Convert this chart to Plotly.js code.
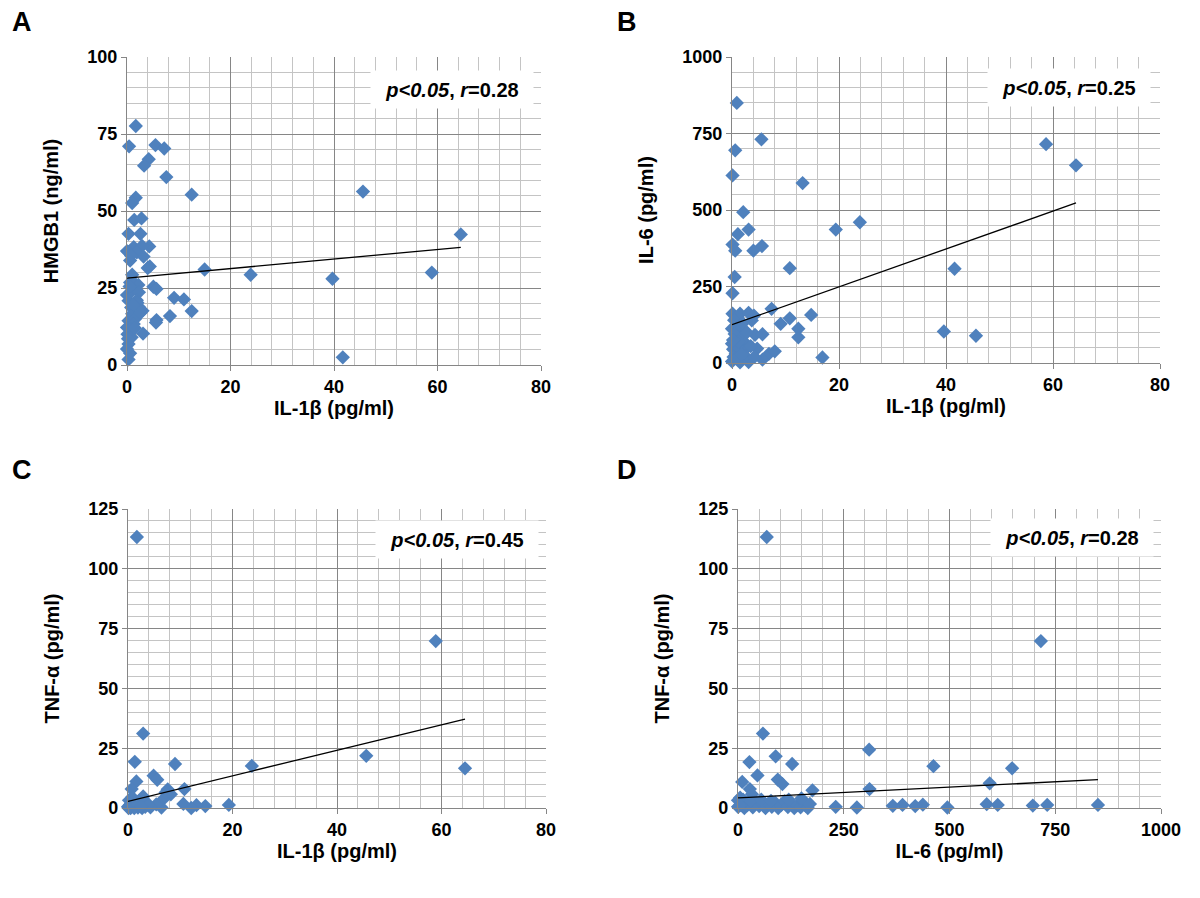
<!DOCTYPE html>
<html>
<head>
<meta charset="utf-8">
<script src="https://cdn.plot.ly/plotly-3.0.1.min.js"></script>
<style>html,body{margin:0;padding:0;background:#fff;}#chart{width:1200px;height:898px;}</style>
</head>
<body>
<div id="chart"></div>
<script>
// ---------- Panel A: IL-1β vs HMGB1 ----------
const aIL1b = [1.7,0.4,5.5,7.2,4.2,3.3,7.6,12.5,45.6,1.7,1.0,1.4,2.8,0.3,2.6,64.5,4.3,1.3,2.9,0,0.3,1.9,3.2,0.6,0.8,4.0,4.4,15,23.9,58.9,39.7,1.0,0.6,1.5,2.2,5.1,5.7,9.1,11,12.5,8.3,5.7,5.6,3.1,41.7,0.3,0,1.0,2.3,0.3,1.9,0.8,2.3,3.0,1.0,0.3,1.6,0,1.3,0.1,0.9,0.3,0,2.0,1.2,0.5,2.6,0.7,1.5,0.2,0.6];
const aHMGB1 = [77.6,71,71.4,70.3,66.8,64.7,61,55.3,56.3,54.3,52.6,47.1,47.6,42.6,42.6,42.4,38.5,38.3,38.7,37,36.6,36.6,35.2,33.9,35.5,31.5,32,31,29.3,30,28,29.3,26.8,26.5,26,25.4,24.7,21.8,21.3,17.5,15.9,14.6,13.8,10.2,2.5,1.8,22.7,24.1,23.6,20.9,21,18.7,18.8,17.6,16.6,14.4,15,12.2,13.3,10,9,6.8,5.2,20.2,19.5,25.5,17,11.5,12,8.5,3.8];
const aTrendX = [0, 64.5];
const aTrendY = [28.2, 38.2];

// ---------- Panel B: IL-1β vs IL-6 ----------
const bIL1b = [0.9,5.5,0.6,0.1,13.2,58.7,64.3,2.1,3.1,1.1,19.4,23.9,0.1,5.6,4.0,0.6,10.8,41.6,0.5,0.1,7.4,14.8,10.8,9.1,12.4,12.4,39.6,45.6,16.9,0.1,1.5,3.1,4.1,3.7,0.9,0,1.6,4.3,5.7,1.4,2.6,0,4.7,6.9,8.0,3.1,5.7,0.7,0,1.7,0.2,2.2,1.0,0.4,2.0,0.5,2.8,1.2,0.3,2.5,1.5,0.8,3.5,0.2,1.8,4.2];
const bIL6 = [850,731,695,613,588,715,646,493,436,421,436,460,387,382,367,367,310,308,281,228,177,157,146,128,112,84,103,89,18,161,161,164,155,139,123,112,110,92,94,85,63,63,47,30,38,3,11,30,5,10,45,40,52,140,130,95,100,70,20,22,2,15,55,75,28,20];
const bTrendX = [0, 64.3];
const bTrendY = [125, 523];

// ---------- Panel C: IL-1β vs TNF-α ----------
const cIL1b = [1.7,58.9,2.9,1.3,9.0,23.7,45.6,64.5,4.9,5.6,1.6,0.7,10.8,7.6,8.2,2.9,6.7,19.3,14.8,13.1,12.1,10.6,6.4,5.4,0,0.3,0.5,1.0,1.4,1.9,2.3,2.7,3.3,3.7,4.3,0.2,0.8,1.2,2.0,0.1,7.2,3.9,0.6,1.7,2.5];
const cTNFa = [113.3,69.8,31.1,19.3,18.4,17.6,21.8,16.6,13.5,11.8,11.1,7.9,7.9,7.8,5.7,4.8,3.6,1.3,0.8,1.2,0,1.7,0.2,1.5,0.5,1.2,0,0.8,2.5,0.2,1.0,0,0.5,2.0,0.3,3.2,4.5,0,2.8,0,6.5,1.2,2.0,1.5,0.6];
const cTrendX = [0, 64.5];
const cTrendY = [2.8, 37.2];

// ---------- Panel D: IL-6 vs TNF-α ----------
const dIL6 = [68,716,59,310,27,89,128,462,648,46,94,105,10,595,311,176,28,33,5,851,731,697,614,588,495,437,419,389,366,281,231,0,8,15,22,35,42,50,58,65,72,80,88,95,102,110,118,125,133,140,148,155,160,165,170,12,30,0,4,55,78,120,150];
const dTNFa = [113.3,69.8,31.1,24.4,19.2,21.6,18.4,17.5,16.6,13.6,11.9,10,10.9,10.3,7.9,7.4,7.9,5.7,4.3,1.3,1.3,1,1.3,1.6,0.2,1.4,0.8,1.3,0.9,0.2,0.5,0.5,2,0,1.2,0.3,2.5,0.8,1.8,0,1.5,0.5,2.2,0,1.2,2.8,0.4,1.8,0,1.2,0.3,2.5,1,0,1.7,3.5,3,3.2,1,3.5,3,3.5,4];
const dTrendX = [0, 851];
const dTrendY = [4.2, 11.9];

// ---------- Labels ----------
const panelLetters = ['A','B','C','D'];
const statsText = ['0.28','0.25','0.45','0.28'];
const xTitles = ['IL-1β (pg/ml)','IL-1β (pg/ml)','IL-1β (pg/ml)','IL-6 (pg/ml)'];
const yTitles = ['HMGB1 (ng/ml)','IL-6 (pg/ml)','TNF-α (pg/ml)','TNF-α (pg/ml)'];

const FONT = 'Liberation Sans, Arial, Helvetica, sans-serif';
const BLUE = '#4F81BD';
const MAJOR = '#868686';
const MINOR = '#c4c4c4';
const W = 1200, H = 898;

function scatter(x, y, n) {
  return {x: x, y: y, xaxis: 'x' + n, yaxis: 'y' + n, type: 'scatter', mode: 'markers',
    cliponaxis: false,
    marker: {symbol: 'diamond', size: 11, color: BLUE, line: {width: 0}}, showlegend: false, hoverinfo: 'x+y'};
}
function trend(x, y, n) {
  return {x: x, y: y, xaxis: 'x' + n, yaxis: 'y' + n, type: 'scatter', mode: 'lines',
    line: {color: '#000', width: 1.3}, showlegend: false, hoverinfo: 'skip'};
}
const data = [
  scatter(aIL1b, aHMGB1, ''), trend(aTrendX, aTrendY, ''),
  scatter(bIL1b, bIL6, '2'), trend(bTrendX, bTrendY, '2'),
  scatter(cIL1b, cTNFa, '3'), trend(cTrendX, cTrendY, '3'),
  scatter(dIL6, dTNFa, '4'), trend(dTrendX, dTrendY, '4')
];

const tickFont = {family: FONT, size: 18, color: '#000', weight: 'bold'};
const titleFont = {family: FONT, size: 20, color: '#000', weight: 'bold'};

function xax(l, r, range, dtick, minor, anchor, title) {
  return {domain: [l / W, r / W], range: range, dtick: dtick, tick0: 0, anchor: anchor,
    showgrid: true, gridcolor: MAJOR, gridwidth: 1,
    minor: {dtick: minor, tick0: 0, showgrid: true, gridcolor: MINOR, gridwidth: 1, ticks: ''},
    showline: true, linecolor: MAJOR, linewidth: 1.2, zeroline: false,
    ticks: 'outside', ticklen: 5, tickcolor: MAJOR, tickwidth: 1,
    tickfont: tickFont,
    title: {text: title, standoff: 2, font: titleFont},
    fixedrange: true};
}
function yax(top, bot, range, dtick, minor, anchor, title) {
  return {domain: [(H - bot) / H, (H - top) / H], range: range, dtick: dtick, tick0: 0, anchor: anchor,
    showgrid: true, gridcolor: MAJOR, gridwidth: 1,
    minor: {dtick: minor, tick0: 0, showgrid: true, gridcolor: MINOR, gridwidth: 1, ticks: ''},
    showline: true, linecolor: MAJOR, linewidth: 1.2, zeroline: false,
    ticks: 'outside', ticklen: 5, tickcolor: MAJOR, tickwidth: 1,
    tickfont: tickFont,
    title: {text: title, standoff: 23, font: titleFont},
    fixedrange: true};
}

const annotations = [];
const letterPos = [[22, 22], [627, 22], [22, 470], [627, 470]];
panelLetters.forEach((t, i) => {
  annotations.push({text: '<b>' + t + '</b>', xref: 'paper', yref: 'paper',
    x: letterPos[i][0] / W, y: 1 - letterPos[i][1] / H, xanchor: 'center', yanchor: 'middle',
    showarrow: false, font: {family: FONT, size: 27, color: '#000'}});
});
const statPos = [['x', 'y', 62.8, 89.5], ['x2', 'y2', 63, 900], ['x3', 'y3', 63, 112.3], ['x4', 'y4', 789, 113.2]];
statsText.forEach((r, i) => {
  annotations.push({text: '<b><i>p&lt;0.05</i>, <i>r</i>=' + r + '</b>', xref: statPos[i][0], yref: statPos[i][1],
    x: statPos[i][2], y: statPos[i][3], xanchor: 'center', yanchor: 'middle', showarrow: false,
    bgcolor: '#fff', width: 160, height: 35, font: {family: FONT, size: 20, color: '#000'}});
});

const layout = {
  width: W, height: H, margin: {l: 0, r: 0, t: 0, b: 0},
  paper_bgcolor: '#fff', plot_bgcolor: '#fff', showlegend: false,
  xaxis: xax(127, 541, [0, 80], 20, 4, 'y', xTitles[0]),
  yaxis: yax(57, 365, [0, 100], 25, 5, 'x', yTitles[0]),
  xaxis2: xax(732, 1160, [0, 80], 20, 4, 'y2', xTitles[1]),
  yaxis2: yax(57, 363, [0, 1000], 250, 50, 'x2', yTitles[1]),
  xaxis3: xax(128, 546, [0, 80], 20, 4, 'y3', xTitles[2]),
  yaxis3: yax(509, 808, [0, 125], 25, 5, 'x3', yTitles[2]),
  xaxis4: xax(738, 1161, [0, 1000], 250, 50, 'y4', xTitles[3]),
  yaxis4: yax(509, 808, [0, 125], 25, 5, 'x4', yTitles[3]),
  annotations: annotations
};
Plotly.newPlot('chart', data, layout, {displayModeBar: false, staticPlot: true});
</script>
</body>
</html>
